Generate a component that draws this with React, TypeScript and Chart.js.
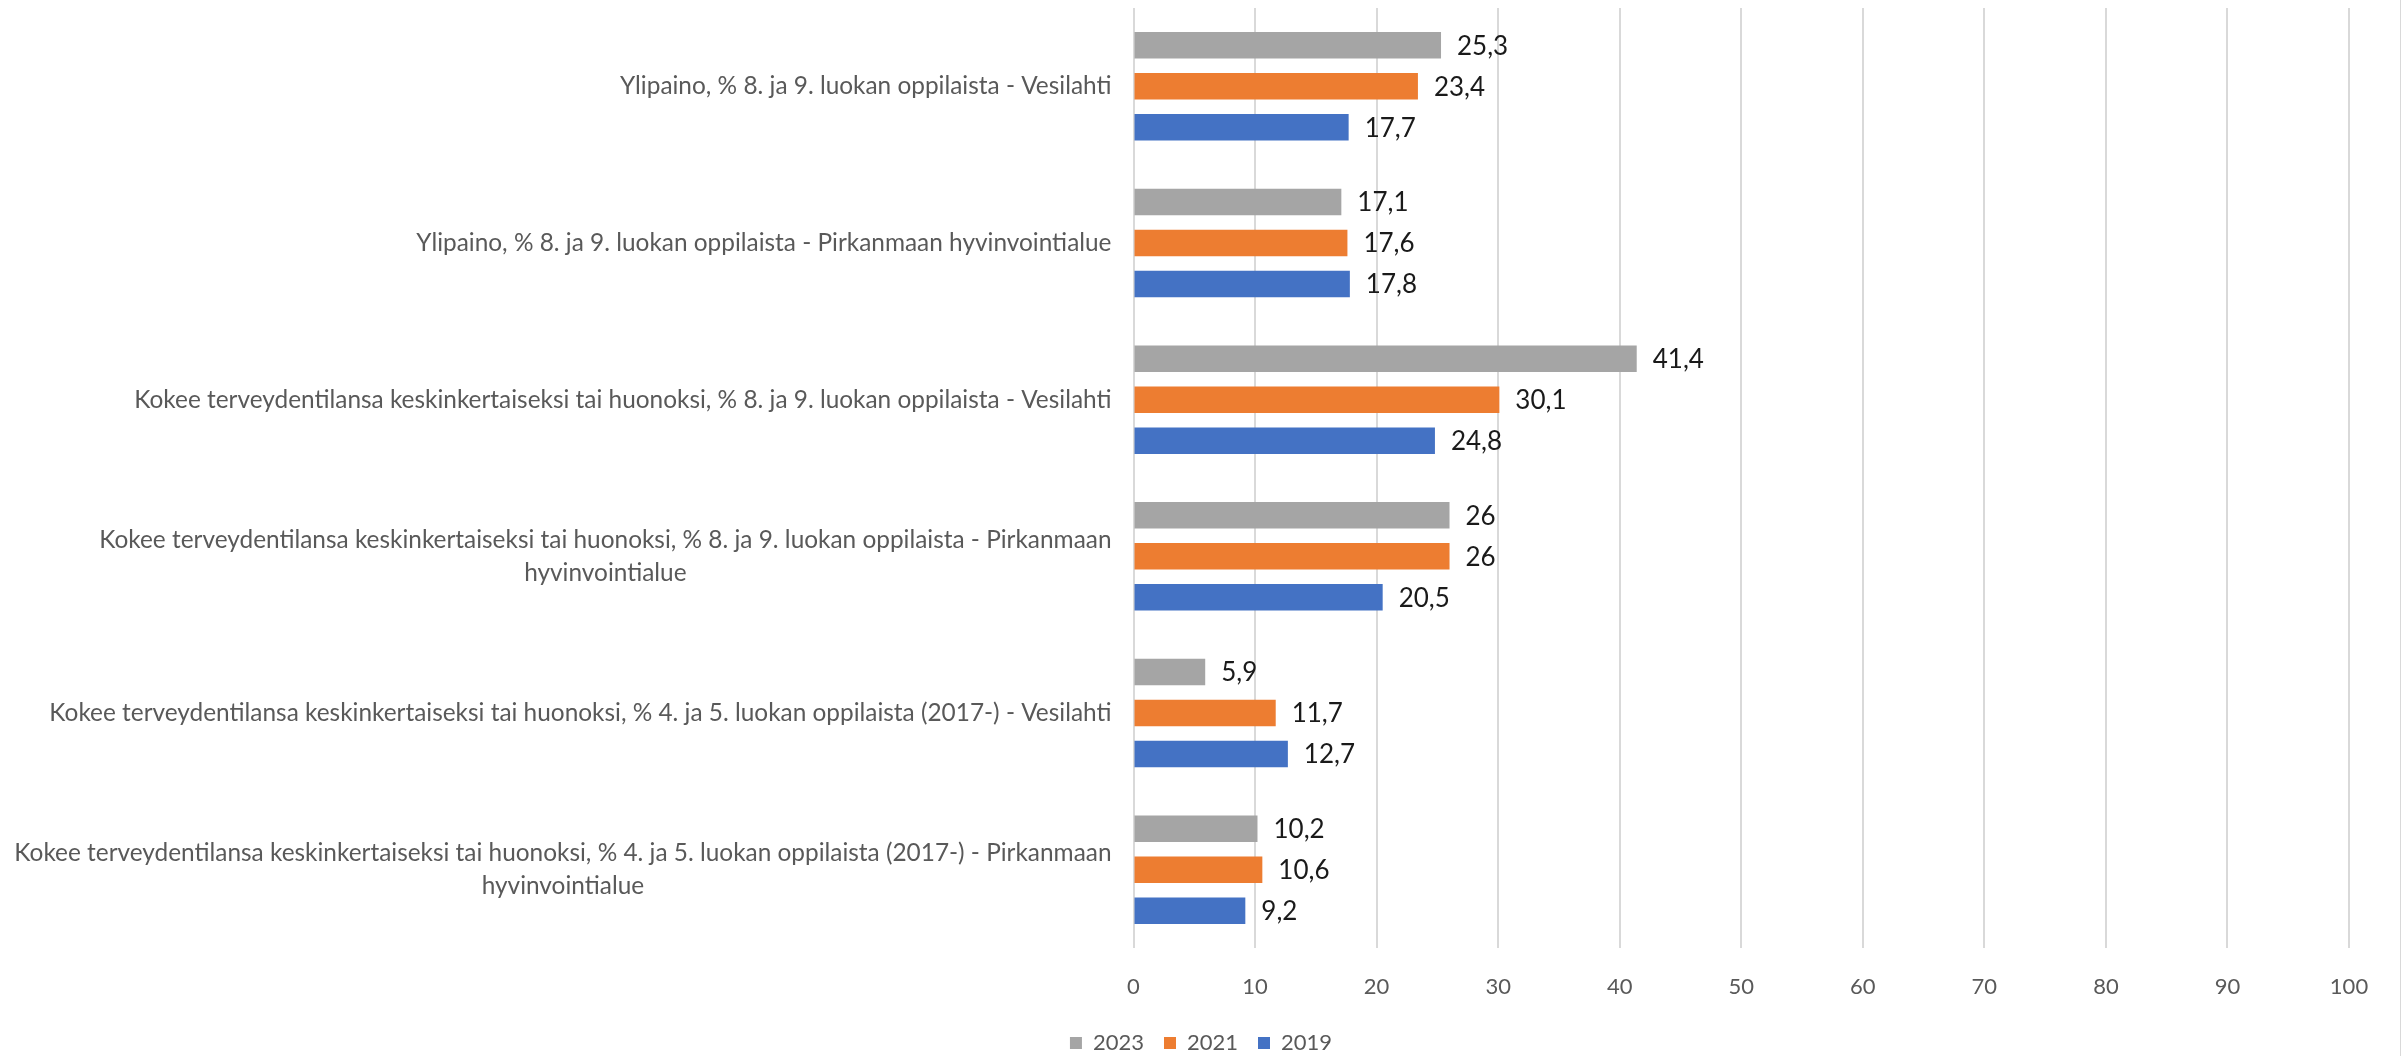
import React, { useEffect, useRef } from 'react';
import { Chart, registerables } from 'chart.js';

Chart.register(...registerables);

// ---- Data ----
const categories: (string | string[])[] = [
  'Ylipaino, % 8. ja 9. luokan oppilaista - Vesilahti',
  'Ylipaino, % 8. ja 9. luokan oppilaista - Pirkanmaan hyvinvointialue',
  'Kokee terveydentilansa keskinkertaiseksi tai huonoksi, % 8. ja 9. luokan oppilaista - Vesilahti',
  ['Kokee terveydentilansa keskinkertaiseksi tai huonoksi, % 8. ja 9. luokan oppilaista - Pirkanmaan', 'hyvinvointialue'],
  'Kokee terveydentilansa keskinkertaiseksi tai huonoksi, % 4. ja 5. luokan oppilaista (2017-) - Vesilahti',
  ['Kokee terveydentilansa keskinkertaiseksi tai huonoksi, % 4. ja 5. luokan oppilaista (2017-) - Pirkanmaan', 'hyvinvointialue'],
];

const seriesNames = ['2023', '2021', '2019'];
const values2023 = [25.3, 17.1, 41.4, 26, 5.9, 10.2];
const values2021 = [23.4, 17.6, 30.1, 26, 11.7, 10.6];
const values2019 = [17.7, 17.8, 24.8, 20.5, 12.7, 9.2];

const xMin = 0;
const xMax = 100;
const xStep = 10;

// ---- Styles ----
const seriesColors = ['#A5A5A5', '#ED7D31', '#4472C4'];
const FONT = 'Lato, "Open Sans", sans-serif';
const LABEL_FONT = 'Lato, "Open Sans", sans-serif';
const LABEL_SIZE = 24.4;
const LABEL_LINE_H = 33;
const VALUE_SIZE = 26;

const categoryLabelPlugin = {
  id: 'categoryLabels',
  afterDraw(chart: any) {
    const y = chart.scales.y;
    const ctx = chart.ctx;
    ctx.save();
    ctx.font = `${LABEL_SIZE}px ${LABEL_FONT}`;
    ctx.fillStyle = '#595959';
    ctx.textBaseline = 'middle';
    ctx.textAlign = 'center';
    const right = y.right - 22;
    (chart.data.labels as any[]).forEach((lab, i) => {
      const lines: string[] = Array.isArray(lab) ? lab : [lab];
      const cy = y.getPixelForTick(i);
      const blockW = Math.max(...lines.map((l) => ctx.measureText(l).width));
      const cx = right - blockW / 2;
      lines.forEach((l, j) => {
        ctx.fillText(l, cx, cy + (j - (lines.length - 1) / 2) * LABEL_LINE_H);
      });
    });
    ctx.restore();
  },
};

const valueLabelPlugin = {
  id: 'valueLabels',
  afterDatasetsDraw(chart: any) {
    const ctx = chart.ctx;
    ctx.save();
    ctx.font = `${VALUE_SIZE}px ${FONT}`;
    ctx.fillStyle = '#1a1a1a';
    ctx.textBaseline = 'middle';
    ctx.textAlign = 'left';
    chart.data.datasets.forEach((ds: any, di: number) => {
      const meta = chart.getDatasetMeta(di);
      meta.data.forEach((bar: any, i: number) => {
        const v = ds.data[i];
        const txt = String(v).replace('.', ',');
        ctx.fillText(txt, bar.x + 16, bar.y + 1);
      });
    });
    ctx.restore();
  },
};

const frameLinePlugin = {
  id: 'frameLine',
  beforeDraw(chart: any) {
    const ctx = chart.ctx;
    ctx.save();
    ctx.strokeStyle = '#D9D9D9';
    ctx.lineWidth = 1;
    ctx.beginPath();
    ctx.moveTo(2400.5, 0);
    ctx.lineTo(2400.5, chart.height);
    ctx.stroke();
    ctx.restore();
  },
};

export default function App() {
  const ref = useRef<HTMLCanvasElement | null>(null);

  useEffect(() => {
    if (!ref.current) return;
    const data = [values2023, values2021, values2019];
    const chart = new Chart(ref.current, {
      type: 'bar',
      data: {
        labels: categories,
        datasets: seriesNames.map((name, i) => ({
          label: name,
          data: data[i],
          backgroundColor: seriesColors[i],
          borderWidth: 0,
          categoryPercentage: 0.785,
          barPercentage: 0.646,
        })),
      },
      options: {
        indexAxis: 'y',
        animation: false,
        responsive: false,
        maintainAspectRatio: false,
        devicePixelRatio: 1,
        layout: { padding: { top: 8, right: 0, left: 0, bottom: -8 } },
        plugins: {
          legend: {
            position: 'bottom',
            align: 'center',
            labels: {
              boxWidth: 12,
              boxHeight: 12,
              padding: 20,
              color: '#595959',
              font: { family: FONT, size: 22 },
            },
          },
          tooltip: { enabled: false },
        },
        scales: {
          x: {
            type: 'linear',
            min: xMin,
            max: xMax,
            ticks: {
              stepSize: xStep,
              color: '#595959',
              font: { family: FONT, size: 22 },
              padding: 26,
            },
            grid: { color: '#D9D9D9', lineWidth: 2, drawTicks: false },
            border: { display: false },
            afterFit: (scale: any) => {
              scale.height = 64;
            },
          },
          y: {
            type: 'category',
            ticks: { display: false },
            grid: { display: false },
            border: { display: false },
            afterFit: (scale: any) => {
              scale.width = 1133.5;
            },
          },
          yRightSpace: {
            type: 'category',
            position: 'right',
            display: true,
            ticks: { display: false },
            grid: { display: false },
            border: { display: false },
            afterFit: (scale: any) => {
              scale.width = 53;
            },
          },
        },
      },
      plugins: [frameLinePlugin, categoryLabelPlugin, valueLabelPlugin],
    } as any);
    return () => chart.destroy();
  }, []);

  return (
    <div style={{ position: 'absolute', left: 0, top: 0, width: 2402, height: 1056, background: '#fff' }}>
      <canvas ref={ref} width={2402} height={1056} style={{ display: 'block', width: 2402, height: 1056 }} />
    </div>
  );
}
